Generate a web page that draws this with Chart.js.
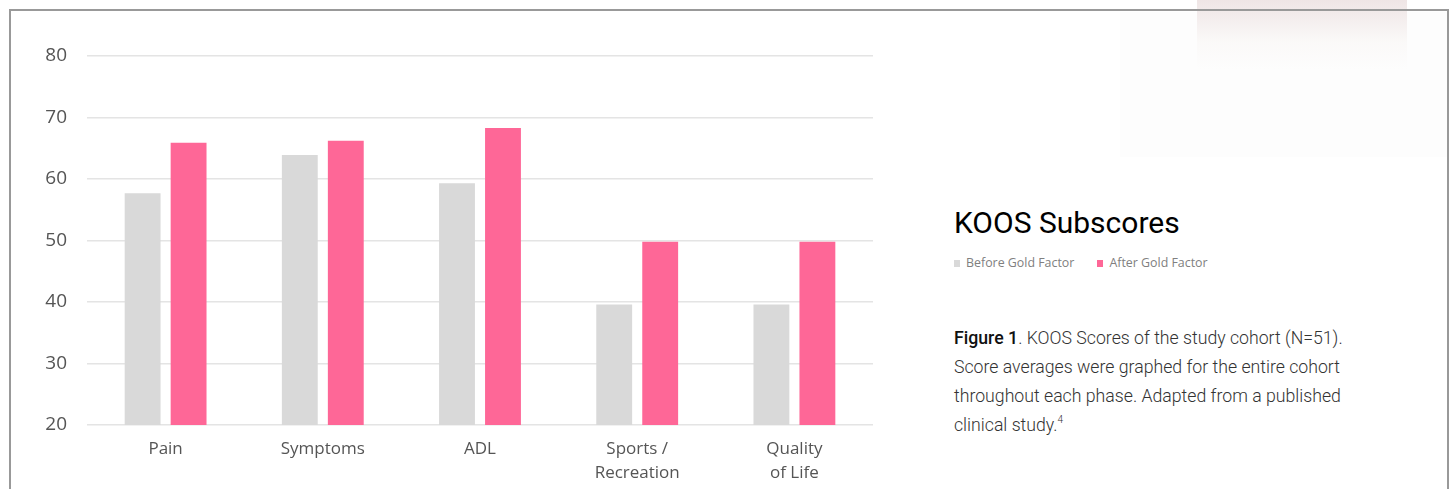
<!DOCTYPE html>
<html>
<head>
<meta charset="utf-8">
<script src="https://cdn.jsdelivr.net/npm/chart.js@4.4.0/dist/chart.umd.min.js"></script>
<style>
    html, body {
        margin: 0;
        padding: 0;
        background: #fff;
        width: 1449px;
        height: 489px;
        overflow: hidden;
        position: relative;
    }
    .photo {
        position: absolute;
        left: 1197px;
        top: 0;
        width: 210px;
        height: 70px;
        background: linear-gradient(to bottom, rgba(232, 218, 218, 0.7), rgba(246, 242, 240, 0.35) 60%, rgba(255, 255, 255, 0));
    }
    .haze {
        position: absolute;
        left: 1120px;
        top: 12px;
        width: 327px;
        height: 145px;
        background: rgba(252, 252, 252, 0.6);
    }
    .frame {
        position: absolute;
        left: 9px;
        top: 9px;
        width: 1436px;
        height: 500px;
        border: 2px solid #999;
        border-bottom: none;
    }
    .chart-wrap {
        position: absolute;
        left: 11px;
        top: 12px;
        width: 880px;
        height: 477px;
    }
    .side {
        position: absolute;
        left: 954px;
        top: 0;
        font-family: Roboto, sans-serif;
    }
    .title {
        position: absolute;
        top: 205px;
        left: 0;
        font-size: 30px;
        line-height: 36px;
        color: #000;
        white-space: nowrap;
    }
    .legend {
        position: absolute;
        top: 254px;
        left: 0;
        font-family: "Open Sans", sans-serif;
        font-size: 12.4px;
        line-height: 18px;
        color: #808080;
        white-space: nowrap;
        display: flex;
    }
    .legend span.item {
        display: flex;
        align-items: center;
        margin-right: 23px;
    }
    .legend i {
        display: inline-block;
        width: 6px;
        height: 7px;
        margin-right: 6px;
    }
    .caption {
        position: absolute;
        top: 324px;
        left: 0;
        font-size: 17.7px;
        font-weight: 300;
        line-height: 29px;
        color: #333;
        white-space: nowrap;
    }
    .caption b {
        font-weight: 500;
        color: #111;
    }
    .caption sup {
        font-size: 10px;
        vertical-align: 8px;
        line-height: 0;
    }
</style>
</head>
<body>
<div class="haze"></div>
<div class="photo"></div>
<div class="frame"></div>
<div class="chart-wrap"><canvas id="koosChart"></canvas></div>
<div class="side">
    <div class="title">KOOS Subscores</div>
    <div class="legend" id="legend"></div>
    <div class="caption">
        <b>Figure 1</b>. KOOS Scores of the study cohort (N=51).<br>
        Score averages were graphed for the entire cohort<br>
        throughout each phase. Adapted from a published<br>
        clinical study.<sup>4</sup>
    </div>
</div>

<script>
const categories = [['Pain'], ['Symptoms'], ['ADL'], ['Sports /', 'Recreation'], ['Quality', 'of Life']];
const beforeValues = [57.7, 63.9, 59.3, 39.6, 39.6];
const afterValues = [65.9, 66.2, 68.3, 49.8, 49.8];
const seriesNames = ['Before Gold Factor', 'After Gold Factor'];
const seriesColors = ['#d9d9d9', '#fe6797'];
const yTicks = [20, 30, 40, 50, 60, 70, 80];

document.addEventListener('DOMContentLoaded', () => {
    const legend = document.getElementById('legend');
    seriesNames.forEach((name, i) => {
        const item = document.createElement('span');
        item.className = 'item';
        item.innerHTML = '<i style="background:' + seriesColors[i] + '"></i>' + name;
        legend.appendChild(item);
    });

    new Chart(document.getElementById('koosChart'), {
        type: 'bar',
        data: {
            labels: categories,
            datasets: [{
                label: seriesNames[0],
                data: beforeValues,
                backgroundColor: seriesColors[0],
                barPercentage: 0.78,
                categoryPercentage: 0.585
            }, {
                label: seriesNames[1],
                data: afterValues,
                backgroundColor: seriesColors[1],
                barPercentage: 0.78,
                categoryPercentage: 0.585
            }]
        },
        options: {
            responsive: true,
            maintainAspectRatio: false,
            animation: false,
            layout: { padding: { top: 44, right: 18, bottom: 0, left: 0 } },
            plugins: {
                legend: { display: false },
                tooltip: { enabled: false }
            },
            scales: {
                x: {
                    grid: { display: false },
                    border: { display: false },
                    ticks: {
                        color: '#555',
                        padding: 4,
                        maxRotation: 0,
                        font: { family: 'Open Sans', size: 17, lineHeight: 1.4 }
                    },
                    afterFit: scale => { scale.height = 64; }
                },
                y: {
                    min: yTicks[0],
                    max: yTicks[yTicks.length - 1],
                    afterBuildTicks: scale => { scale.ticks = yTicks.map(v => ({ value: v })); },
                    grid: { color: '#e4e4e4', lineWidth: 1.5, drawTicks: false },
                    border: { display: false },
                    ticks: {
                        color: '#555',
                        padding: 20,
                        font: { family: 'Open Sans', size: 19 }
                    },
                    afterFit: scale => { scale.width = 76; }
                }
            }
        }
    });
});
</script>
</body>
</html>
